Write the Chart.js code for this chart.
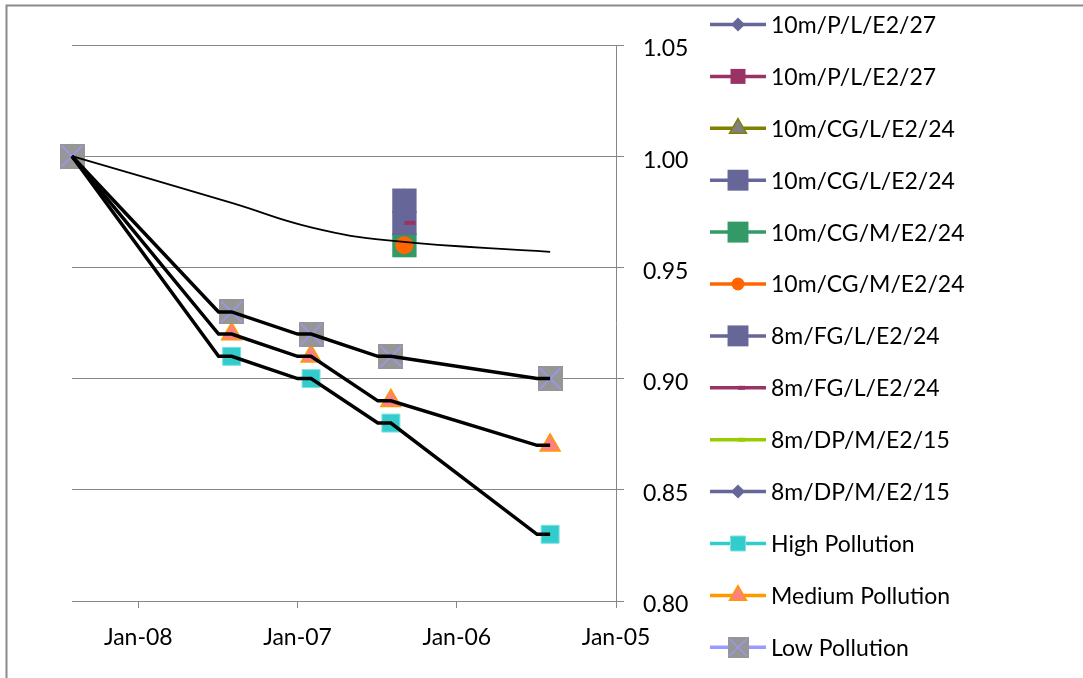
<!DOCTYPE html>
<html>
<head>
<meta charset="utf-8">
<title>Pollution index</title>
<script src="https://cdn.jsdelivr.net/npm/chart.js@4.4.1/dist/chart.umd.min.js"></script>
<style>
    body { margin: 0; background: #fff; }
    .grafic-box { width: 1083px; height: 678px; }
</style>
</head>
<body>
<div class="grafic-box"><canvas class="grafic-chart"></canvas></div>
<script>
// dates of the marker points and their values
const markerDates = ['2008-06-01', '2007-06-01', '2006-12-01', '2006-06-01', '2005-06-01']
const highValues = [1.00, 0.91, 0.90, 0.88, 0.83]
const mediumValues = [1.00, 0.92, 0.91, 0.89, 0.87]
const lowValues = [1.00, 0.93, 0.92, 0.91, 0.90]

// the thick black step lines (no legend entry)
const stepDates = ['2008-06-01', '2007-07-01', '2007-06-01', '2007-01-01', '2006-12-01', '2006-07-01', '2006-06-01', '2005-07-01', '2005-06-01']
const highStep = [1.00, 0.91, 0.91, 0.90, 0.90, 0.88, 0.88, 0.83, 0.83]
const mediumStep = [1.00, 0.92, 0.92, 0.91, 0.91, 0.89, 0.89, 0.87, 0.87]
const lowStep = [1.00, 0.93, 0.93, 0.92, 0.92, 0.91, 0.91, 0.90, 0.90]

// thin smooth curve (no legend entry)
const curveDates = ['2008-06-01', '2007-06-01', '2006-12-01', '2006-06-01', '2005-06-01']
const curveValues = [1.00, 0.979, 0.968, 0.962, 0.957]

// site measurements
const siteDates = ['2006-05-01']
const pL27a = []
const pL27b = []
const cgL24a = [0.98]
const cgL24b = [0.98]
const cgM24a = [0.96]
const cgM24b = [0.96]
const fgL24a = [0.97]
const fgL24b = [0.97]
const dpM15a = []
const dpM15b = []

const seriesNames = ['10m/P/L/E2/27', '10m/P/L/E2/27', '10m/CG/L/E2/24', '10m/CG/L/E2/24',
    '10m/CG/M/E2/24', '10m/CG/M/E2/24', '8m/FG/L/E2/24', '8m/FG/L/E2/24',
    '8m/DP/M/E2/15', '8m/DP/M/E2/15', 'High Pollution', 'Medium Pollution', 'Low Pollution']

// axis ticks
const yTicks = [0.80, 0.85, 0.90, 0.95, 1.00, 1.05]
const xTickDates = ['2005-01-01', '2006-01-01', '2007-01-01', '2008-01-01']
const xTickLabels = ['Jan-05', 'Jan-06', 'Jan-07', 'Jan-08']
const xMin = '2005-01-01'
const xMax = '2008-06-01'

const toTime = d => Date.parse(d)
const pts = (dates, vals) => vals.map((v, i) => ({ x: toTime(dates[i]), y: v }))

// gray square with a light blue cross, as in the Low Pollution marker
function lowMarker(size) {
    const c = document.createElement('canvas')
    c.width = size
    c.height = size
    const g = c.getContext('2d')
    g.fillStyle = '#969696'
    g.fillRect(0, 0, size, size)
    g.strokeStyle = '#9999ff'
    g.lineWidth = 1.5
    g.beginPath()
    g.moveTo(2, 2); g.lineTo(size - 2, size - 2)
    g.moveTo(size - 2, 2); g.lineTo(2, size - 2)
    g.stroke()
    return c
}

// one marker-only series, with the colour of its line kept for the legend
function series(i, dates, vals, s) {
    return {
        label: seriesNames[i],
        data: pts(dates, vals),
        showLine: false,
        legendLine: s.line,
        borderColor: s.line,
        pointStyle: s.style,
        pointRadius: s.r,
        pointBackgroundColor: s.fill,
        pointBorderColor: s.stroke || s.fill,
        pointBorderWidth: s.bw || 0,
        legendRadius: s.lr,
        isSeries: true,
        clip: false,
        order: 50 - i
    }
}

function blackLine(dates, vals, width, smooth) {
    return {
        data: pts(dates, vals),
        borderColor: '#000',
        borderWidth: width,
        pointRadius: 0,
        tension: smooth ? 0.45 : 0,
        clip: false,
        order: 0
    }
}

const datasets = [
    series(0, siteDates, pL27a, { line: '#666699', style: 'rectRot', r: 8, fill: '#666699', lr: 7 }),
    series(1, siteDates, pL27b, { line: '#993366', style: 'rect', r: 10.6, fill: '#993366', lr: 10.6 }),
    series(2, siteDates, cgL24a, { line: '#808000', style: 'triangle', r: 11, fill: '#808080', stroke: '#808000', bw: 1.5, lr: 9.8 }),
    series(3, siteDates, cgL24b, { line: '#666699', style: 'rect', r: 17.2, fill: '#666699', lr: 14.8 }),
    series(4, siteDates, cgM24a, { line: '#339966', style: 'rect', r: 17.2, fill: '#339966', lr: 14.8 }),
    series(5, siteDates, cgM24b, { line: '#ff6600', style: 'circle', r: 9, fill: '#ff6600', lr: 6.5 }),
    series(6, siteDates, fgL24a, { line: '#666699', style: 'rect', r: 17.2, fill: '#666699', lr: 14.8 }),
    series(7, siteDates, fgL24b, { line: '#993366', style: 'dash', r: 11, fill: '#993366', bw: 4, lr: 7 }),
    series(8, siteDates, dpM15a, { line: '#99cc00', style: 'dash', r: 11, fill: '#99cc00', bw: 4, lr: 7 }),
    series(9, siteDates, dpM15b, { line: '#666699', style: 'rectRot', r: 8, fill: '#666699', lr: 7 }),
    series(10, markerDates, highValues, { line: '#33cccc', style: 'rect', r: 12.7, fill: '#33cccc', stroke: '#7fe0e0', bw: 1, lr: 10.6 }),
    series(11, markerDates, mediumValues, { line: '#ff9900', style: 'triangle', r: 11.5, fill: '#ff8080', stroke: '#ff9900', bw: 1.5, lr: 9.8 }),
    series(12, markerDates, lowValues, { line: '#9999ff', style: lowMarker(25), r: 12, fill: '#969696', lr: 10.5 }),
    blackLine(stepDates, highStep, 3.5),
    blackLine(stepDates, mediumStep, 3.5),
    blackLine(stepDates, lowStep, 3.5),
    blackLine(curveDates, curveValues, 1.8, true)
]

// outer frame of the chart object
const frame = {
    id: 'frame',
    beforeDraw(chart) {
        const ctx = chart.ctx
        ctx.save()
        ctx.strokeStyle = '#8a8a8a'
        ctx.lineWidth = 2
        ctx.beginPath()
        ctx.moveTo(6.5, 700)
        ctx.lineTo(6.5, 5.5)
        ctx.lineTo(1100, 5.5)
        ctx.stroke()
        ctx.restore()
    }
}

// excel-like legend: line with the marker on it, then the name
const excelLegend = {
    id: 'excelLegend',
    afterDraw(chart) {
        const ctx = chart.ctx
        const items = chart.data.datasets.filter(d => d.isSeries)
        ctx.save()
        items.forEach((ds, k) => {
            const y = 24.5 + k * 51.9
            ctx.strokeStyle = ds.legendLine
            ctx.lineWidth = 3.5
            ctx.beginPath()
            ctx.moveTo(710, y)
            ctx.lineTo(766, y)
            ctx.stroke()
            if (ds.pointStyle instanceof HTMLCanvasElement) {
                const s = ds.legendRadius * 2
                ctx.drawImage(ds.pointStyle, 738 - s / 2, y - s / 2, s, s)
            } else {
                ctx.fillStyle = ds.pointBackgroundColor
                ctx.strokeStyle = ds.pointBorderColor
                ctx.lineWidth = ds.pointBorderWidth
                Chart.helpers.drawPoint(ctx, {
                    pointStyle: ds.pointStyle,
                    radius: ds.legendRadius,
                    rotation: 0,
                    borderWidth: ds.pointBorderWidth
                }, 738, y)
            }
            ctx.fillStyle = '#000'
            ctx.font = '23px Lato'
            ctx.textAlign = 'left'
            ctx.textBaseline = 'middle'
            ctx.fillText(ds.label, 771, y + 1)
        })
        ctx.restore()
    }
}

Chart.defaults.font.family = 'Lato'
Chart.defaults.font.size = 23
Chart.defaults.color = '#000'

const canva = document.querySelector('.grafic-chart')
new Chart(canva.getContext('2d'), {
    type: 'line',
    data: { datasets },
    options: {
        responsive: true,
        maintainAspectRatio: false,
        animation: false,
        layout: { padding: { left: 72, top: 45, right: 383, bottom: 27 } },
        plugins: {
            legend: { display: false },
            tooltip: { enabled: false }
        },
        scales: {
            x: {
                type: 'linear',
                reverse: true,
                min: toTime(xMin),
                max: toTime(xMax),
                afterBuildTicks: s => { s.ticks = xTickDates.map(d => ({ value: toTime(d) })) },
                afterFit: s => { s.height = 50; s.paddingLeft = 0; s.paddingRight = 0 },
                ticks: {
                    callback: (v, i) => xTickLabels[i],
                    padding: 16,
                    maxRotation: 0,
                    autoSkip: false
                },
                grid: { drawOnChartArea: false, tickLength: 7, color: '#868686' },
                border: { color: '#868686' }
            },
            y: {
                position: 'right',
                min: 0.8,
                max: 1.05,
                afterBuildTicks: s => { s.ticks = yTicks.map(v => ({ value: v })) },
                afterFit: s => { s.width = 84 },
                ticks: {
                    callback: v => v.toFixed(2),
                    padding: 19,
                    labelOffset: 4
                },
                grid: { color: '#868686', tickLength: 8 },
                border: { color: '#868686' }
            }
        }
    },
    plugins: [frame, excelLegend]
})
</script>
</body>
</html>
